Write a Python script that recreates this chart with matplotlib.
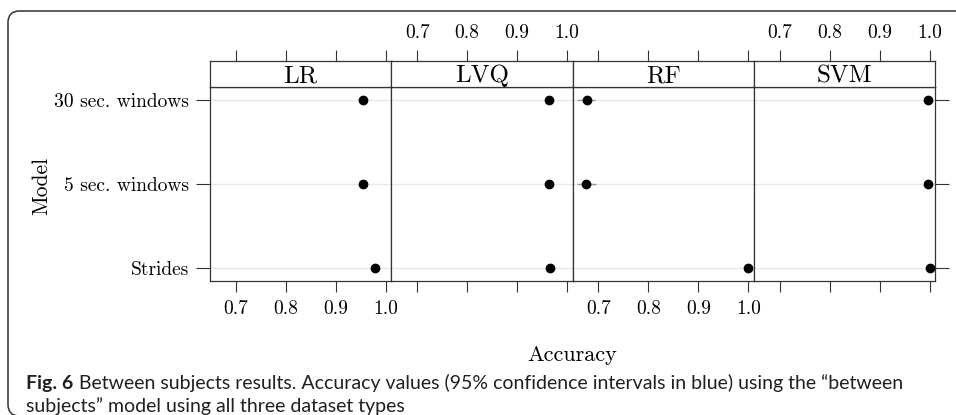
import numpy as np
import matplotlib
matplotlib.use('Agg')
from matplotlib import pyplot as plt
from matplotlib.patches import FancyBboxPatch

models = ['LR', 'LVQ', 'RF', 'SVM']
datasets = ['Strides', '5 sec. windows', '30 sec. windows']

# accuracy per model, rows follow datasets (bottom to top)
acc_lr = [0.978, 0.954, 0.954]
acc_lvq = [0.966, 0.964, 0.964]
acc_rf = [0.999, 0.676, 0.678]
acc_svm = [1.000, 0.996, 0.997]

# 95% confidence intervals
lo_lr = [0.972, 0.947, 0.947]
hi_lr = [0.984, 0.961, 0.961]
lo_lvq = [0.959, 0.957, 0.957]
hi_lvq = [0.972, 0.971, 0.971]
lo_rf = [0.996, 0.657, 0.657]
hi_rf = [1.000, 0.696, 0.694]
lo_svm = [0.998, 0.990, 0.991]
hi_svm = [1.000, 0.999, 0.999]

acc = [acc_lr, acc_lvq, acc_rf, acc_svm]
lo = [lo_lr, lo_lvq, lo_rf, lo_svm]
hi = [hi_lr, hi_lvq, hi_rf, hi_svm]

xticks = [0.7, 0.8, 0.9, 1.0]
xticklabels = ['0.7', '0.8', '0.9', '1.0']

W, H = 956, 415
fig = plt.figure(figsize=(W / 100, H / 100), dpi=100)

def box(x0, y0, x1, y1):
    # pixel box (top-left origin) -> figure fraction rect
    return [x0 / W, 1 - y1 / H, (x1 - x0) / W, (y1 - y0) / H]

serif = 'cmr10'
tick_fs = 14
left, right = 210, 935
top_strip, top_panel, bottom = 61, 87, 281
pw = (right - left) / 4
ypos = np.arange(1, len(datasets) + 1)

for i, m in enumerate(models):
    x0 = left + i * pw
    ax = fig.add_axes(box(x0, top_panel, x0 + pw, bottom))
    sx = fig.add_axes(box(x0, top_strip, x0 + pw, top_panel), sharex=ax)

    for y in ypos:
        ax.axhline(y, color='#e8e8e8', lw=1, zorder=0)
    ax.hlines(ypos, lo[i], hi[i], color='#9a9a9a', lw=1, zorder=2)
    ax.plot(acc[i], ypos, 'o', color='black', ms=6, zorder=3)

    ax.set_xlim(0.648, 1.011)
    ax.set_ylim(0.85, 3.15)
    ax.set_xticks(xticks)
    ax.set_yticks(ypos)
    ax.tick_params(direction='out', length=8, width=0.8, color='#333333',
                   labelsize=tick_fs, pad=6)
    ax.tick_params(axis='y', length=10, pad=5)
    for sp in ax.spines.values():
        sp.set_linewidth(0.9)
        sp.set_color('#333333')

    # bottom tick labels on LR and RF only
    if i % 2 == 0:
        ax.set_xticklabels(xticklabels, fontfamily=serif)
    else:
        ax.tick_params(axis='x', labelbottom=False)

    if i == 0:
        ax.set_yticklabels(datasets, fontfamily=serif)
        ax.tick_params(axis='y', left=True, right=False)
    elif i == len(models) - 1:
        ax.tick_params(axis='y', left=False, right=True, labelleft=False)
    else:
        ax.tick_params(axis='y', left=False, labelleft=False)

    # strip with model name, top ticks drawn here
    sx.set_yticks([])
    sx.tick_params(axis='x', bottom=False, labelbottom=False, top=True,
                   direction='out', length=8, width=0.8, color='#333333',
                   labelsize=tick_fs, pad=6)
    if i % 2 == 1:
        sx.tick_params(axis='x', labeltop=True)
        for t in sx.get_xticklabels():
            t.set_fontfamily(serif)
    for sp in sx.spines.values():
        sp.set_linewidth(0.9)
        sp.set_color('#333333')
    sx.text(0.5, 0.42, m, transform=sx.transAxes, ha='center', va='center',
            fontsize=18, fontfamily=serif)

fig.text(572 / W, 1 - 355 / H, 'Accuracy', ha='center', va='center',
         fontsize=16, fontfamily=serif)
fig.text(41 / W, 1 - 186 / H, 'Model', ha='center', va='center',
         rotation=90, fontsize=15.5, fontfamily=serif)

# caption: bold figure number, then the text right after it
cap_fs = 14
cap_col = '#231f20'
renderer = fig.canvas.get_renderer()
fig_no = fig.text(26 / W, 1 - 383 / H, 'Fig. 6', ha='left', va='center',
                  fontsize=cap_fs, fontweight='bold', fontfamily='Lato',
                  color=cap_col)
x_after = fig_no.get_window_extent(renderer).x1 + 6
fig.text(x_after / W, 1 - 383 / H,
         'Between subjects results. Accuracy values (95% confidence intervals in blue) '
         'using the \u201cbetween', ha='left', va='center', fontsize=cap_fs,
         fontfamily='Lato', color=cap_col)
fig.text(26 / W, 1 - 406 / H,
         'subjects\u201d model using all three dataset types', ha='left',
         va='center', fontsize=cap_fs, fontfamily='Lato', color=cap_col)

# rounded frame around the figure
frame = FancyBboxPatch((8 / W, -1 / H), 1.2, (H - 11 + 1) / H,
                       boxstyle='round,pad=0,rounding_size=0.012',
                       transform=fig.transFigure, fill=False,
                       ec='#333333', lw=1.1, mutation_aspect=W / H)
fig.patches.append(frame)

fig.savefig('out.png', dpi=100)
